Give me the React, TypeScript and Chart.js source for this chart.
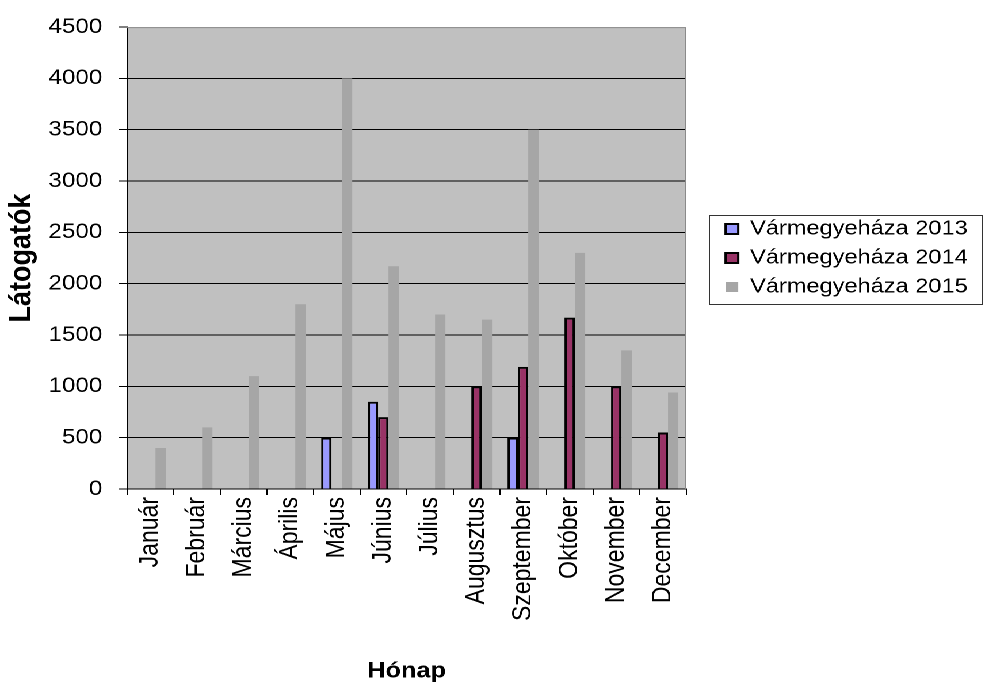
import { useEffect, useRef } from 'react';
import { Chart, registerables } from 'chart.js';

Chart.register(...registerables);

// ---- data ----
const months = ['Január', 'Február', 'Március', 'Április', 'Május', 'Június', 'Július', 'Augusztus', 'Szeptember', 'Október', 'November', 'December'];
const seriesNames = ['Vármegyeháza 2013', 'Vármegyeháza 2014', 'Vármegyeháza 2015'];
const visitors2013 = [null, null, null, null, 500, 850, null, null, 500, null, null, null];
const visitors2014 = [null, null, null, null, null, 700, null, 1000, 1190, 1670, 1000, 550];
const visitors2015 = [400, 600, 1100, 1800, 4000, 2170, 1700, 1650, 3500, 2300, 1350, 940];
const yMin = 0;
const yMax = 4500;
const yStep = 500;
const xTitle = 'Hónap';
const yTitle = 'Látogatók';

// ---- styling ----
const CANVAS_W = 856;
const CANVAS_H = 689;
const SX = 985 / CANVAS_W;
const FONT = "'Liberation Sans', Arial, Helvetica, sans-serif";

const plotFrame = {
  id: 'plotFrame',
  beforeDraw(chart: any) {
    const { ctx, chartArea } = chart;
    const { left, top, width, height } = chartArea;
    ctx.save();
    ctx.fillStyle = '#c0c0c0';
    ctx.fillRect(left, top, width, height);
    ctx.restore();
  },
  beforeDatasetsDraw(chart: any) {
    const { ctx, chartArea } = chart;
    const { left, top, right, bottom } = chartArea;
    ctx.save();
    ctx.strokeStyle = '#8a8a8a';
    ctx.lineWidth = 1;
    ctx.beginPath();
    ctx.moveTo(left, top + 0.5);
    ctx.lineTo(right - 0.5, top + 0.5);
    ctx.lineTo(right - 0.5, bottom);
    ctx.stroke();
    ctx.restore();
  },
};

const legendFrame = {
  id: 'legendFrame',
  afterDraw(chart: any) {
    const lg = chart.legend;
    if (!lg || !lg.legendHitBoxes || !lg.legendHitBoxes.length) return;
    const hbs = lg.legendHitBoxes;
    const first = hbs[0];
    const last = hbs[hbs.length - 1];
    let maxRight = 0;
    hbs.forEach((h: any) => { maxRight = Math.max(maxRight, h.left + h.width); });
    const l = first.left - 15;
    const r = Math.min(maxRight + 12, chart.width - 3);
    const t = first.top - 4;
    const b = last.top + last.height + 6;
    const { ctx } = chart;
    ctx.save();
    ctx.strokeStyle = '#333333';
    ctx.lineWidth = 1;
    ctx.strokeRect(Math.round(l) + 0.5, Math.round(t) + 0.5, Math.round(r - l), Math.round(b - t));
    ctx.restore();
  },
};

export default function App() {
  const canvasRef = useRef<HTMLCanvasElement | null>(null);

  useEffect(() => {
    if (!canvasRef.current) return;
    const chart = new Chart(canvasRef.current, {
      type: 'bar',
      data: {
        labels: months,
        datasets: [
          {
            label: seriesNames[0],
            data: visitors2013,
            backgroundColor: '#9999ff',
            borderColor: '#000000',
            borderWidth: 2,
          },
          {
            label: seriesNames[1],
            data: visitors2014,
            backgroundColor: '#993366',
            borderColor: '#000000',
            borderWidth: 2,
          },
          {
            label: seriesNames[2],
            data: visitors2015,
            backgroundColor: '#a6a6a6',
            borderColor: '#a6a6a6',
            borderWidth: 0,
          },
        ],
      },
      options: {
        animation: false,
        responsive: true,
        maintainAspectRatio: false,
        devicePixelRatio: 2,
        events: [],
        layout: { padding: { left: 0, top: 25, right: 5, bottom: 0 } },
        datasets: {
          bar: { categoryPercentage: 2 / 3, barPercentage: 1 },
        },
        plugins: {
          tooltip: { enabled: false },
          legend: {
            position: 'right',
            fullSize: false,
            align: 'center',
            maxWidth: 400,
            labels: {
              color: '#000000',
              font: { family: FONT, size: 20.5 },
              boxWidth: 11,
              boxHeight: 10,
              padding: 8.5,
            },
          },
        },
        scales: {
          x: {
            type: 'category',
            offset: true,
            afterFit: (s: any) => { s.height = 200; },
            grid: {
              offset: true,
              drawOnChartArea: false,
              drawTicks: true,
              tickLength: 6,
              color: '#000000',
              tickColor: '#000000',
            },
            border: { display: true, color: '#000000', width: 1 },
            ticks: {
              autoSkip: false,
              maxRotation: 90,
              minRotation: 90,
              padding: 2,
              color: '#000000',
              font: { family: FONT, size: 23 },
            },
            title: {
              display: true,
              text: xTitle,
              color: '#000000',
              font: { family: FONT, size: 22, weight: 'bold' },
              padding: { top: 4, bottom: 4.5 },
            },
          },
          y: {
            type: 'linear',
            min: yMin,
            max: yMax,
            afterFit: (s: any) => { s.width = 110.4; },
            grid: {
              drawOnChartArea: true,
              drawTicks: true,
              tickLength: 7,
              color: (c: any) => (c.tick && c.tick.value === yMax ? 'rgba(0,0,0,0)' : '#000000'),
              tickColor: '#000000',
              lineWidth: 1,
            },
            border: { display: true, color: '#000000', width: 1 },
            ticks: {
              stepSize: yStep,
              padding: 14.5,
              color: '#000000',
              font: { family: FONT, size: 21 },
              callback: (v: any) => String(v),
            },
            title: {
              display: true,
              text: yTitle,
              color: '#000000',
              font: { family: FONT, size: 27, weight: 'bold' },
              padding: { top: 3, bottom: 0 },
            },
          },
          spacer: {
            type: 'linear',
            position: 'right',
            display: true,
            afterFit: (s: any) => { s.width = 25.8; },
            grid: { display: false, drawOnChartArea: false, drawTicks: false },
            border: { display: false },
            ticks: { display: false },
          },
        },
      } as any,
      plugins: [plotFrame, legendFrame],
    });
    return () => chart.destroy();
  }, []);

  return (
    <div
      style={{
        position: 'fixed',
        left: 0,
        top: 0,
        width: CANVAS_W + 'px',
        height: CANVAS_H + 'px',
        transform: `scaleX(${SX})`,
        transformOrigin: '0 0',
        background: '#ffffff',
      }}
    >
      <canvas ref={canvasRef} />
    </div>
  );
}
